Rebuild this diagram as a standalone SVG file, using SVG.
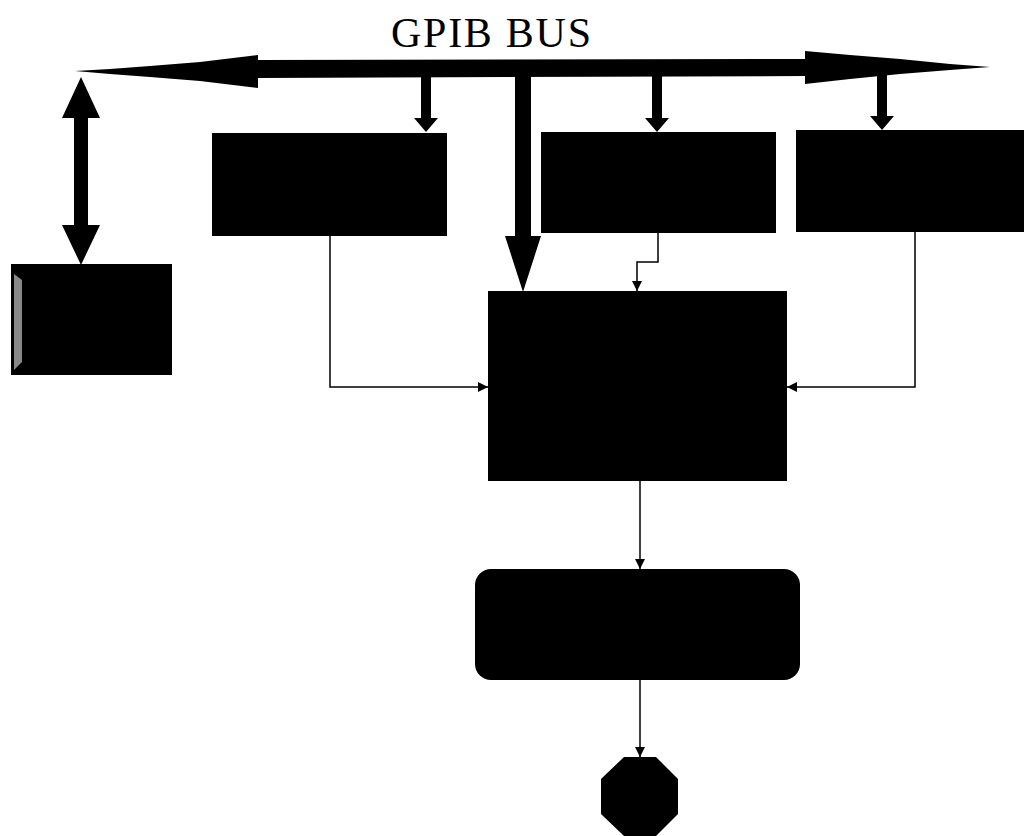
<svg xmlns="http://www.w3.org/2000/svg" width="1024" height="836" viewBox="0 0 1024 836">
<style>
.box{fill:#000;}
.conn{fill:none;stroke:#000;stroke-width:1.5;}
.title{font-family:"Liberation Serif",serif;font-size:42px;fill:#000;}
</style>
<defs>
<marker id="arr" viewBox="0 0 10 10" refX="10" refY="5" markerWidth="10" markerHeight="10" markerUnits="userSpaceOnUse" orient="auto">
<path d="M0,0 L10,5 L0,10 Z" fill="#000"/>
</marker>
</defs>
<rect width="1024" height="836" fill="#fff"/>
<text class="title" x="391" y="47" textLength="200" lengthAdjust="spacing">GPIB BUS</text>
<g id="bus">
<path d="M75,71 L110,69 L150,66 L200,62 L258,55 L258,60 L805,59 L805,51 L850,55 L900,59 L950,64 L990,67 L950,70 L900,74 L850,79 L805,84 L805,76 L258,78 L258,88 L200,81 L150,77 L110,74 Z" fill="#000"/>
</g>
<g id="bus-arrows">
<path d="M421,76 L431,76 L431,118 L438,118 L426,132 L414,118 L421,118 Z" fill="#000"/>
<path d="M652,76 L662,76 L662,118 L669,118 L657,132 L645,118 L652,118 Z" fill="#000"/>
<path d="M877,75 L887,75 L887,116 L894,116 L882,130 L870,116 L877,116 Z" fill="#000"/>
<path d="M515,76 L531,76 L531,236 L541,236 L523,292 L505,236 L515,236 Z" fill="#000"/>
<path d="M81,77 L100,118 L88,118 L88,225 L100,225 L81,265 L62,225 L74,225 L74,118 L62,118 Z" fill="#000"/>
</g>
<g id="boxA"><rect class="box" x="212" y="133" width="235" height="103"/></g>
<g id="boxB"><rect class="box" x="541" y="132" width="235" height="101"/></g>
<g id="boxC"><rect class="box" x="796" y="130" width="228" height="102"/></g>
<g id="boxLeft">
<rect class="box" x="11" y="264" width="161" height="111"/>
<path d="M14,274 L22,280 L22,362 L14,370 Z" fill="#888"/>
</g>
<g id="mainBox"><rect class="box" x="488" y="291" width="299" height="190"/></g>
<g id="roundBox"><rect class="box" x="475" y="569" width="325" height="111" rx="16" ry="16"/></g>
<g id="octagon"><polygon class="box" points="624,757 656,757 678,779 678,814 656,836 624,836 601,814 601,779"/></g>
<g id="connectors">
<path class="conn" d="M330,236 L330,387 L488,387" marker-end="url(#arr)"/>
<path class="conn" d="M658,233 L658,262 L637,262 L637,291" marker-end="url(#arr)"/>
<path class="conn" d="M915,232 L915,387 L787,387" marker-end="url(#arr)"/>
<path class="conn" d="M640,481 L640,569" marker-end="url(#arr)"/>
<path class="conn" d="M640,680 L640,757" marker-end="url(#arr)"/>
</g>
</svg>
